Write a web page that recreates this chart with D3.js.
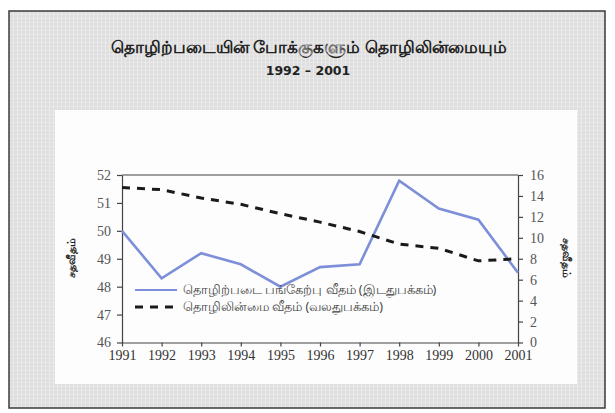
<!DOCTYPE html>
<html>
<head>
<meta charset="utf-8">
<script src="https://cdn.jsdelivr.net/npm/d3@7/dist/d3.min.js"></script>
<style>
body{margin:0;background:#fff;}
</style>
</head>
<body>
<div id="graphique"></div>
<script>
// donnees
let annees = [1991,1992,1993,1994,1995,1996,1997,1998,1999,2000,2001];
let participation = [50.0,48.3,49.2,48.8,48.0,48.7,48.8,51.8,50.8,50.4,48.5]; // axe gauche
let chomage = [14.8,14.6,13.8,13.2,12.3,11.5,10.6,9.4,9.0,7.8,8.0]; // axe droit
let ticksGauche = [46,47,48,49,50,51,52];
let ticksDroite = [0,2,4,6,8,10,12,14,16];
let titre = "தொழிற்படையின் போக்குகளும் தொழிலின்மையும்";
let sousTitre = "1992  –  2001";
let legendes = ["தொழிற்படை பங்கேற்பு வீதம் (இடதுபக்கம்)","தொழிலின்மை வீதம் (வலதுபக்கம்)"];
let titreAxe = "சதவீதம்";

let largeur = 615, hauteur = 413;
let serif = "Liberation Serif";
let svg = d3.select("#graphique").append("svg").attr("width",largeur).attr("height",hauteur);

// fond gris tramé (scan)
let defs = svg.append("defs");
let trame = defs.append("pattern").attr("id","trame").attr("width",4).attr("height",4).attr("patternUnits","userSpaceOnUse");
trame.append("rect").attr("width",4).attr("height",4).attr("fill","#dedede");
trame.append("rect").attr("x",1).attr("width",1).attr("height",4).attr("fill","#ebebeb");
trame.append("rect").attr("y",2).attr("width",4).attr("height",1).attr("fill","#e8e8e8");

svg.append("rect").attr("x",9).attr("y",11).attr("width",596).attr("height",397)
    .attr("fill","url(#trame)").attr("stroke","#3a3a3a").attr("stroke-width",1.5);
svg.append("rect").attr("x",55).attr("y",110).attr("width",522).attr("height",274).attr("fill","#fdfdfd");

// titres
svg.append("text").attr("x",309).attr("y",53).attr("text-anchor","middle")
    .style("font-family","'Noto Sans', sans-serif").style("font-size","17px").style("font-weight","bold").style("fill","#222")
    .text(titre);
svg.append("text").attr("x",308).attr("y",75).attr("text-anchor","middle")
    .style("font-family","'DejaVu Sans', sans-serif").style("font-size","12.5px").style("font-weight","600").style("fill","#222")
    .text(sousTitre);

let gauche = 122, droite = 518, haut = 175, bas = 342.5;
let x = d3.scaleLinear().domain([1991,2001]).range([gauche,droite]);
let yG = d3.scaleLinear().domain([46,52]).range([bas,haut]);
let yD = d3.scaleLinear().domain([0,16]).range([bas,haut]);

function styleAxe(g){
    g.attr("font-family",serif).attr("font-size",14);
    g.selectAll("path,line").attr("stroke","#444").attr("stroke-width",1.2);
    g.selectAll("text").attr("font-family",serif).attr("font-size",14).attr("fill","#555");
}

svg.append("g").attr("transform","translate("+gauche+",0)")
    .call(d3.axisLeft(yG).tickValues(ticksGauche).tickFormat(d3.format("d")).tickSize(5).tickPadding(6).tickSizeOuter(0)).call(styleAxe);
svg.append("g").attr("transform","translate("+droite+",0)")
    .call(d3.axisRight(yD).tickValues(ticksDroite).tickFormat(d3.format("d")).tickSize(5).tickPadding(7).tickSizeOuter(0)).call(styleAxe);
svg.append("g").attr("transform","translate(0,"+bas+")")
    .call(d3.axisBottom(x).tickValues(annees).tickFormat(d3.format("d")).tickSize(4).tickPadding(4).tickSizeOuter(0)).call(styleAxe)
    .selectAll("text").attr("fill","#333");
// ligne du haut du cadre
svg.append("line").attr("x1",gauche).attr("x2",droite).attr("y1",haut).attr("y2",haut)
    .attr("stroke","#444").attr("stroke-width",1.2);

// titres des axes
svg.append("text").attr("transform","translate(75,258) rotate(-90)").attr("text-anchor","middle")
    .style("font-family","'Noto Sans', sans-serif").style("font-size","11px").style("font-weight","bold").style("fill","#222").text(titreAxe);
svg.append("text").attr("transform","translate(563,258) rotate(90)").attr("text-anchor","middle")
    .style("font-family","'Noto Sans', sans-serif").style("font-size","11px").style("font-weight","bold").style("fill","#222").text(titreAxe);

// courbes
let ligneG = d3.line().x((d,i)=>x(annees[i])).y(d=>yG(d));
let ligneD = d3.line().x((d,i)=>x(annees[i])).y(d=>yD(d));
svg.append("path").attr("d",ligneG(participation)).attr("fill","none")
    .attr("stroke","#7d8fd8").attr("stroke-width",2.6);
svg.append("path").attr("d",ligneD(chomage)).attr("fill","none")
    .attr("stroke","#1a1a1a").attr("stroke-width",3).attr("stroke-dasharray","8,7");

// legende
let leg = svg.append("g");
leg.append("line").attr("x1",135).attr("x2",177).attr("y1",290).attr("y2",290)
    .attr("stroke","#7d8fd8").attr("stroke-width",2);
leg.append("line").attr("x1",135).attr("x2",177).attr("y1",307).attr("y2",307)
    .attr("stroke","#1a1a1a").attr("stroke-width",3).attr("stroke-dasharray","8,7");
leg.selectAll("text").data(legendes).enter().append("text")
    .attr("x",183).attr("y",(d,i)=>294+i*17)
    .style("font-family","'Noto Sans', sans-serif").style("font-size","12.5px").style("fill","#444")
    .text(d=>d);
</script>
</body>
</html>
